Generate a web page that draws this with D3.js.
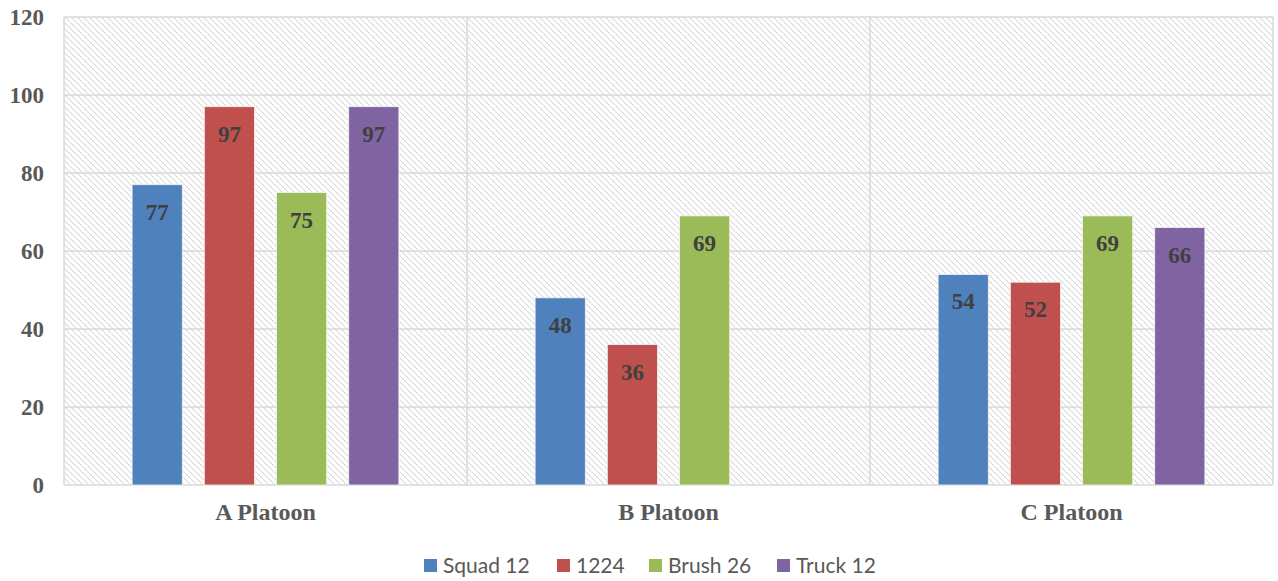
<!DOCTYPE html>
<html><head><meta charset="utf-8">
<script src="https://cdn.jsdelivr.net/npm/d3@7"></script>
<style>body{margin:0;background:#fff}svg{display:block}
.serif{font-family:'Liberation Serif','DejaVu Serif','Times New Roman',serif;font-weight:bold}
</style>
</head><body>
<svg id="c" width="1278" height="581"></svg>
<script>
const categories = ["A Platoon", "B Platoon", "C Platoon"];
const seriesNames = ["Squad 12", "1224", "Brush 26", "Truck 12"];
const squad12 = [77, 48, 54];
const s1224 = [97, 36, 52];
const brush26 = [75, 69, 69];
const truck12 = [97, null, 66];
const yTicks = [0, 20, 40, 60, 80, 100, 120];
const colors = ["#4f81bd", "#c0504d", "#9bbb59", "#8064a2"];
const seriesValues = [squad12, s1224, brush26, truck12];

const svg = d3.select("#c");
const L = 64, R = 1273, T = 17, B = 485;

const defs = svg.append("defs");
const pat = defs.append("pattern").attr("id", "hatch").attr("patternUnits", "userSpaceOnUse")
  .attr("width", 6).attr("height", 6);
pat.append("rect").attr("width", 6).attr("height", 6).attr("fill", "#fff");
pat.append("path").attr("d", "M-1,-1 L7,7 M-4,2 L1,7 M2,-4 L7,1").attr("stroke", "#cfcfcf")
  .attr("stroke-width", 1.3).attr("stroke-dasharray", "1.4,0.8");

const x = d3.scaleBand().domain(categories).range([L, R]).paddingInner(0).paddingOuter(0);
const y = d3.scaleLinear().domain([0, 120]).range([B, T]);
const cw = x.bandwidth();
const xi = d3.scaleBand().domain(seriesNames).range([cw * 0.169, cw * 0.831]).paddingInner(0.305).paddingOuter(0);

svg.append("rect").attr("x", L).attr("y", T).attr("width", R - L).attr("height", B - T).attr("fill", "url(#hatch)");

svg.append("g").selectAll("line").data(yTicks).join("line")
  .attr("x1", L).attr("x2", R).attr("y1", d => y(d)).attr("y2", d => y(d))
  .attr("stroke", "#d9d9d9").attr("stroke-width", 1.5);
const bounds = [L, ...categories.map(c => x(c) + cw)];
svg.append("g").selectAll("line").data(bounds).join("line")
  .attr("x1", d => d).attr("x2", d => d).attr("y1", T).attr("y2", B)
  .attr("stroke", "#d9d9d9").attr("stroke-width", 1.5);

const yAxis = d3.axisLeft(y).tickValues(yTicks).tickSize(0).tickPadding(20);
const ya = svg.append("g").attr("transform", `translate(${L},0)`).call(yAxis);
ya.attr("font-family", null);
ya.select(".domain").remove();
ya.selectAll("text").attr("class", "serif").attr("font-size", 23).attr("fill", "#595959");

const xAxis = d3.axisBottom(x).tickSize(0).tickPadding(18);
const xa = svg.append("g").attr("transform", `translate(0,${B})`).call(xAxis);
xa.attr("font-family", null);
xa.select(".domain").remove();
xa.selectAll("text").attr("class", "serif").attr("font-size", 24).attr("fill", "#595959");

const flat = [];
seriesValues.forEach((vals, si) => vals.forEach((v, ci) => {
  if (v != null) flat.push({ s: seriesNames[si], si, c: categories[ci], v });
}));
const g = svg.append("g");
g.selectAll("rect").data(flat).join("rect")
  .attr("x", d => x(d.c) + xi(d.s)).attr("width", xi.bandwidth())
  .attr("y", d => y(d.v)).attr("height", d => y(0) - y(d.v))
  .attr("fill", d => colors[d.si]).attr("stroke", "#f4f4f4").attr("stroke-width", 0.8);
g.selectAll("text").data(flat).join("text")
  .attr("class", "serif")
  .attr("x", d => x(d.c) + xi(d.s) + xi.bandwidth() / 2).attr("y", d => y(d.v) + 35)
  .attr("text-anchor", "middle")
  .attr("font-size", 23).attr("fill", "#404040").text(d => d.v);

const legX = [424, 557, 649, 777];
const lg = svg.append("g");
seriesNames.forEach((n, i) => {
  lg.append("rect").attr("x", legX[i]).attr("y", 559).attr("width", 13).attr("height", 13).attr("fill", colors[i]);
  lg.append("text").attr("x", legX[i] + 19).attr("y", 573).attr("font-family", "Lato, sans-serif")
    .attr("font-size", 21).attr("fill", "#595959").text(n);
});
</script>
</body></html>
